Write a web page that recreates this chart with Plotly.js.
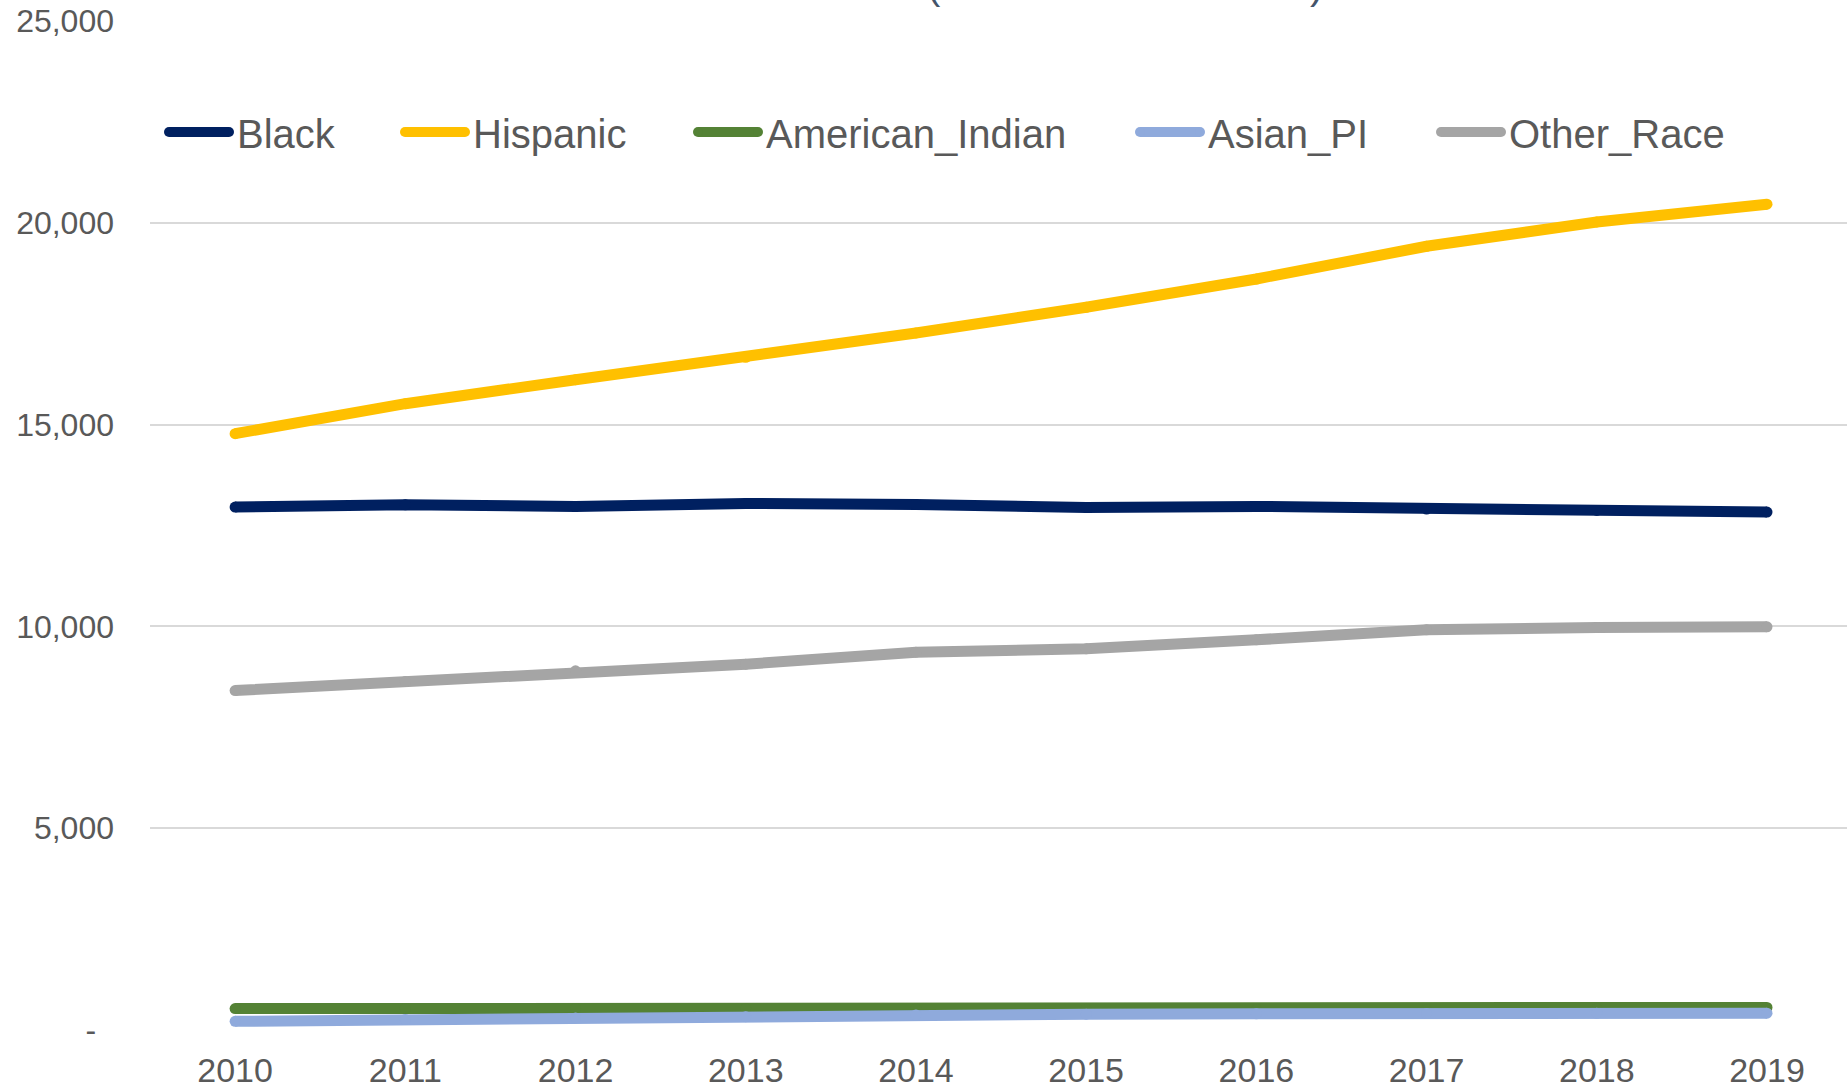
<!DOCTYPE html>
<html>
<head>
<meta charset="utf-8">
<script src="https://cdn.plot.ly/plotly-3.0.1.min.js"></script>
<style>
  html, body { margin: 0; padding: 0; background: #ffffff; overflow: hidden; }
  #chart { width: 1847px; height: 1089px; }
</style>
</head>
<body>
<div id="chart"></div>
<script>
// ---- data ----
const years = ['2010', '2011', '2012', '2013', '2014', '2015', '2016', '2017', '2018', '2019'];
const seriesNames = ['Black', 'Hispanic', 'American_Indian', 'Asian_PI', 'Other_Race'];
const black = [12957, 13014, 12972, 13047, 13022, 12948, 12972, 12907, 12873, 12833];
const hispanic = [14775, 15518, 16113, 16666, 17270, 17906, 18607, 19418, 20021, 20460];
const americanIndian = [530, 532, 535, 530, 522, 512, 508, 503, 525, 560];
const asianPI = [215, 262, 300, 330, 372, 392, 400, 408, 412, 418];
const otherRace = [8411, 8634, 8899, 9064, 9362, 9445, 9668, 9916, 9973, 9990];
const yTickVals = [0, 5000, 10000, 15000, 20000, 25000];
const yTickText = ['-\u00a0\u00a0', '5,000', '10,000', '15,000', '20,000', '25,000'];

// ---- styling ----
const colors = ['#002060', '#FFC000', '#548235', '#8FAADC', '#A5A5A5'];
const seriesValues = [black, hispanic, americanIndian, asianPI, otherRace];
const FONT = 'Liberation Sans, Arial, sans-serif';
const TEXT_COLOR = '#595959';

const W = 1847, H = 1089;
const M = { l: 150, r: 0, t: 21, b: 59 };
const plotW = W - M.l - M.r, plotH = H - M.t - M.b;
const px = x => (x - M.l) / plotW;
const py = y => (H - M.b - y) / plotH;

const LW = 11;
const traces = seriesNames.map((name, i) => ({
  type: 'scatter',
  mode: 'lines+markers',
  name: name,
  x: years,
  y: seriesValues[i],
  line: { color: colors[i], width: LW, shape: 'linear' },
  marker: { color: colors[i], size: LW, line: { width: 0 } },
  showlegend: false,
  hoverinfo: 'skip'
}));

// custom legend (long rounded samples like the original)
const legendStarts = [164, 400, 693, 1135, 1436];
const legendY = 132;
const sampleLen = 70;
const shapes = [];
const annotations = [];
seriesNames.forEach((name, i) => {
  const s = legendStarts[i];
  const r = 5;
  shapes.push({
    type: 'line', xref: 'paper', yref: 'paper',
    x0: px(s + r), x1: px(s + sampleLen - r), y0: py(legendY), y1: py(legendY),
    line: { color: colors[i], width: 2 * r }
  });
  [s + r, s + sampleLen - r].forEach(cx => {
    shapes.push({
      type: 'circle', xref: 'paper', yref: 'paper',
      xsizemode: 'pixel', ysizemode: 'pixel',
      xanchor: px(cx), yanchor: py(legendY),
      x0: -r, x1: r, y0: -r, y1: r,
      fillcolor: colors[i], line: { width: 0 }
    });
  });
  annotations.push({
    xref: 'paper', yref: 'paper',
    x: px(s + sampleLen + 1), y: py(legendY + 2),
    xanchor: 'left', yanchor: 'middle',
    text: name, showarrow: false,
    font: { family: FONT, size: 40, color: TEXT_COLOR }
  });
});

// title, almost entirely cut off above the picture (only parenthesis tails visible)
annotations.push({
  xref: 'paper', yref: 'paper', x: px(934), y: py(9), xanchor: 'center', yanchor: 'bottom',
  text: '(', showarrow: false, font: { family: FONT, size: 40, color: '#44546A' }
});
annotations.push({
  xref: 'paper', yref: 'paper', x: px(1316), y: py(9), xanchor: 'center', yanchor: 'bottom',
  text: ')', showarrow: false, font: { family: FONT, size: 40, color: '#44546A' }
});

const layout = {
  width: W, height: H,
  margin: M,
  paper_bgcolor: '#ffffff',
  plot_bgcolor: '#ffffff',
  showlegend: false,
  hovermode: false,
  font: { family: FONT, color: TEXT_COLOR },
  xaxis: {
    type: 'category',
    categoryorder: 'array',
    categoryarray: years,
    range: [-0.5, 9.47],
    showgrid: false, zeroline: false, showline: false,
    ticks: '',
    ticklabelstandoff: 17,
    tickfont: { family: FONT, size: 34, color: TEXT_COLOR }
  },
  yaxis: {
    range: [0, 25000],
    tickmode: 'array',
    tickvals: yTickVals,
    ticktext: yTickText,
    showgrid: true, gridcolor: '#D9D9D9', gridwidth: 2,
    zeroline: false, showline: false,
    ticks: '',
    ticklabelstandoff: 35,
    tickfont: { family: FONT, size: 32, color: TEXT_COLOR }
  },
  shapes: shapes,
  annotations: annotations
};

Plotly.newPlot('chart', traces, layout, { staticPlot: true, displayModeBar: false });
</script>
</body>
</html>
